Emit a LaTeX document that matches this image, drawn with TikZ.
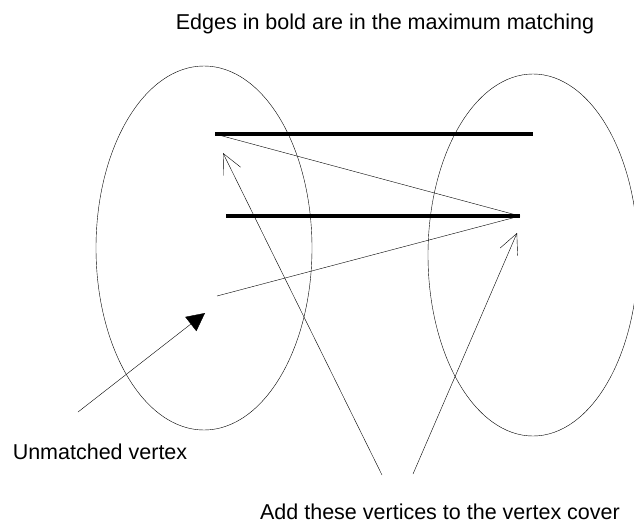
\documentclass[tikz,border=0pt]{standalone}
\usepackage{fontspec}
\setmainfont{Liberation Sans}
\usetikzlibrary{arrows.meta}
\begin{document}
\begin{tikzpicture}[x=1pt,y=-1pt,font=\fontsize{21.5}{25}\selectfont,
        matched/.style={line width=3.5pt},
        coverarrow/.style={-{Straight Barb[length=20pt,width=19pt]}},
        freearrow/.style={-{Triangle[length=18pt,width=18pt]}}]
        \useasboundingbox (0,0) rectangle (634,528);

        \node (title) at (385,24) {Edges in bold are in the maximum matching};

        \draw (204,248) ellipse [x radius=108pt, y radius=182pt];
        \draw (533,255) ellipse [x radius=105pt, y radius=181pt];

        \coordinate (l1) at (215,134);
        \coordinate (r1) at (533,134);
        \coordinate (l2) at (226,216);
        \coordinate (r2) at (520,216);
        \coordinate (l3) at (217,296);

        \draw[matched] (l1) -- (r1);
        \draw[matched] (l2) -- (r2);
        \draw (l1) -- (r2);
        \draw (l3) -- (r2);

        \node (unmatched) at (100,452) {Unmatched vertex};
        \node (addcover) at (440,512) {Add these vertices to the vertex cover};

        \coordinate (u0) at (78,412);
        \coordinate (u1) at (205,313);
        \coordinate (c0) at (382,475);
        \coordinate (c1) at (223,153);
        \coordinate (d0) at (413,474);
        \coordinate (d1) at (517,233);

        \draw[freearrow] (u0) -- (u1);
        \draw[coverarrow] (c0) -- (c1);
        \draw[coverarrow] (d0) -- (d1);
    \end{tikzpicture}
\end{document}
